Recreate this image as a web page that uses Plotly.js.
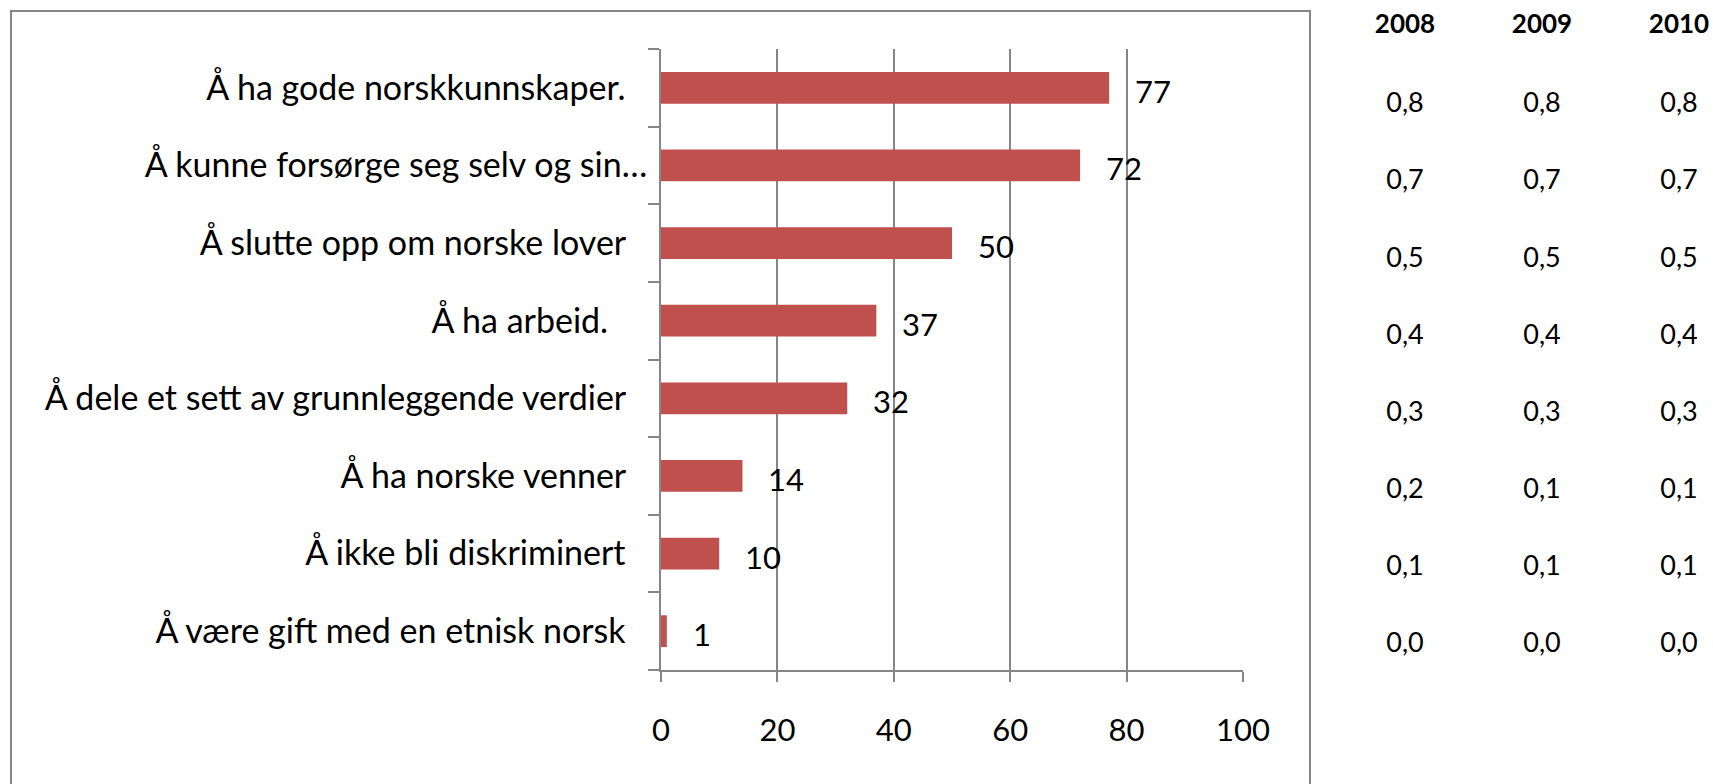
<!DOCTYPE html>
<html>
<head>
<meta charset="utf-8">
<script src="https://cdn.plot.ly/plotly-3.0.1.min.js"></script>
<style>
html,body{margin:0;padding:0;background:#fff;}
#chart{width:1713px;height:784px;}
</style>
</head>
<body>
<div id="chart"></div>
<script>
// ---- data ----
var categories = [
  "Å ha gode norskkunnskaper.",
  "Å kunne forsørge seg selv og sin…",
  "Å slutte opp om norske lover",
  "Å ha arbeid.",
  "Å dele et sett av grunnleggende verdier",
  "Å ha norske venner",
  "Å ikke bli diskriminert",
  "Å være gift med en etnisk norsk"
];
var values = [77, 72, 50, 37, 32, 14, 10, 1];
var tableYears = ["2008", "2009", "2010"];
var values2008 = ["0,8", "0,7", "0,5", "0,4", "0,3", "0,2", "0,1", "0,0"];
var values2009 = ["0,8", "0,7", "0,5", "0,4", "0,3", "0,1", "0,1", "0,0"];
var values2010 = ["0,8", "0,7", "0,5", "0,4", "0,3", "0,1", "0,1", "0,0"];
var xTicks = [0, 20, 40, 60, 80, 100];

// trailing spaces that the original category texts carry
var SP = "\u00a0\u00a0\u2009";
var labelPad = [SP, "", SP, "\u00a0\u00a0\u00a0\u00a0\u2009", SP, SP, SP, SP];
var tickText = categories.map(function(c, i){ return c + labelPad[i]; });

var FONT = "Lato, 'Open Sans', sans-serif";
var GRAY = "#868686";
var W = 1713, H = 784;

var barTrace = {
  type: "bar",
  orientation: "h",
  x: values,
  y: categories,
  marker: {color: "#C0504D"},
  hoverinfo: "x+y",
  xaxis: "x", yaxis: "y"
};

var tableX = [], tableY = [], tableT = [];
var cols = [values2008, values2009, values2010];
tableYears.forEach(function(yr, j){
  cols[j].forEach(function(v, i){
    tableX.push(Number(yr));
    tableY.push(categories[i]);
    tableT.push(v);
  });
});
var tableTrace = {
  type: "scatter",
  mode: "text",
  x: tableX, y: tableY, text: tableT,
  textposition: "middle center",
  textfont: {family: FONT, size: 27, color: "#000"},
  xaxis: "x2", yaxis: "y2",
  hoverinfo: "none",
  cliponaxis: false
};

var annotations = values.map(function(v, i){
  return {
    x: v, y: categories[i], xref: "x", yref: "y",
    text: String(v), showarrow: false,
    xanchor: "left", xshift: 24, yshift: -3,
    font: {family: FONT, size: 31, color: "#000"}
  };
});

var layout = {
  width: W, height: H,
  margin: {l: 0, r: 0, t: 0, b: 0},
  paper_bgcolor: "#fff", plot_bgcolor: "#fff",
  showlegend: false,
  bargap: 0.59,
  xaxis: {
    domain: [661 / W, 1243 / W],
    range: [0, 100],
    tickvals: xTicks,
    ticktext: xTicks.map(String),
    showgrid: true, gridcolor: GRAY, gridwidth: 2,
    zeroline: false,
    showline: true, linecolor: GRAY, linewidth: 2,
    ticks: "outside", ticklen: 10, tickcolor: GRAY, tickwidth: 2,
    ticklabelstandoff: 22,
    tickfont: {family: FONT, size: 31, color: "#000"},
    fixedrange: true
  },
  yaxis: {
    domain: [1 - 670 / H, 1 - 49 / H],
    type: "category",
    categoryorder: "array", categoryarray: categories,
    range: [categories.length - 0.5, -0.5],
    tickvals: categories, ticktext: tickText,
    tickson: "boundaries",
    showgrid: false, zeroline: false,
    showline: true, linecolor: GRAY, linewidth: 2,
    ticks: "outside", ticklen: 11, tickcolor: GRAY, tickwidth: 2,
    ticklabelstandoff: 5,
    tickfont: {family: FONT, size: 34, color: "#000"},
    fixedrange: true
  },
  xaxis2: {
    domain: [1328 / W, 1],
    range: [2007.438, 2010.248],
    side: "top",
    anchor: "y2",
    tickvals: tableYears.map(Number),
    ticktext: tableYears.map(function(y){ return "<b>" + y + "</b>"; }),
    showgrid: false, zeroline: false, showline: false, ticks: "",
    ticklabelstandoff: 28,
    tickfont: {family: FONT, size: 26, color: "#000"},
    fixedrange: true
  },
  yaxis2: {
    domain: [1 - 684 / H, 1 - 67 / H],
    type: "category",
    categoryorder: "array", categoryarray: categories,
    range: [categories.length - 0.5, -0.5],
    anchor: "x2",
    showgrid: false, zeroline: false, showline: false, ticks: "",
    showticklabels: false,
    fixedrange: true
  },
  shapes: [{
    type: "rect", xref: "paper", yref: "paper",
    x0: 11 / W, x1: 1310 / W, y0: -0.1, y1: 1 - 11 / H,
    line: {color: GRAY, width: 2}, fillcolor: "rgba(0,0,0,0)", layer: "below"
  }],
  annotations: annotations
};

Plotly.newPlot("chart", [barTrace, tableTrace], layout, {displayModeBar: false, staticPlot: true});
</script>
</body>
</html>
